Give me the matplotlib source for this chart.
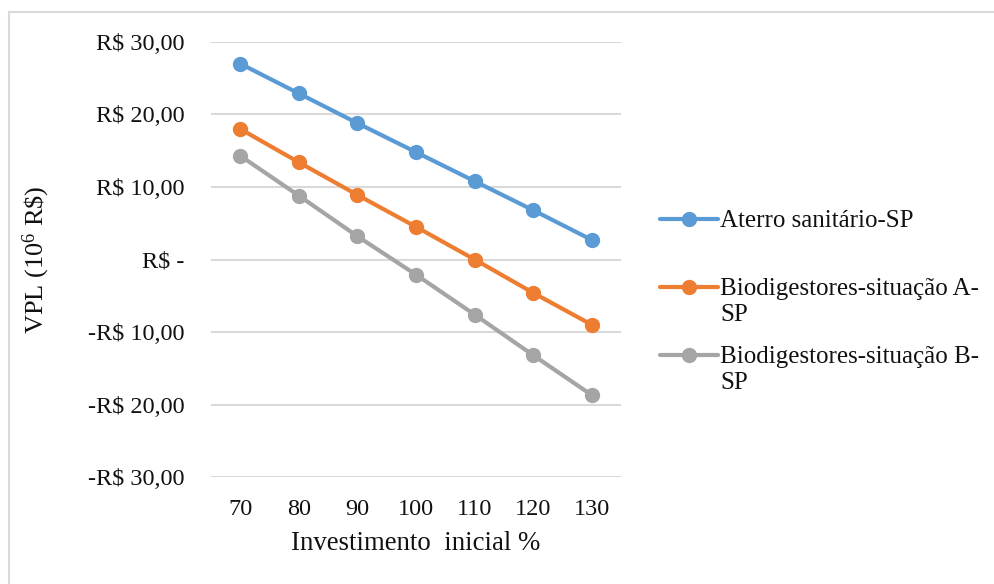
import matplotlib.pyplot as plt
from matplotlib.lines import Line2D
from matplotlib.patches import Rectangle

# dados
investimento = [70, 80, 90, 100, 110, 120, 130]
aterro_sp = [27.0, 22.9, 18.8, 14.8, 10.8, 6.8, 2.7]
bio_a_sp = [18.0, 13.4, 8.9, 4.5, 0.0, -4.6, -9.0]
bio_b_sp = [14.3, 8.8, 3.2, -2.1, -7.6, -13.2, -18.7]

series = [
    ("Aterro sanitário-SP", aterro_sp, "#5B9BD5"),
    ("Biodigestores-situação A-\nSP", bio_a_sp, "#ED7D31"),
    ("Biodigestores-situação B-\nSP", bio_b_sp, "#A5A5A5"),
]

y_ticks = [30, 20, 10, 0, -10, -20, -30]
y_labels = ["R$ 30,00", "R$ 20,00", "R$ 10,00", "R$ -", "-R$ 10,00", "-R$ 20,00", "-R$ 30,00"]

plt.rcParams['font.family'] = ['Liberation Serif', 'DejaVu Serif']
plt.rcParams['mathtext.fontset'] = 'custom'
plt.rcParams['mathtext.rm'] = 'Liberation Serif'
plt.rcParams['mathtext.it'] = 'Liberation Serif'

fig = plt.figure(figsize=(9.94, 5.84), dpi=100)
ax = fig.add_axes([0.2123, 0.1832, 0.4125, 0.7449])

for nome, valores, cor in series:
    ax.plot(investimento, valores, color=cor, linewidth=3, marker='o',
            markersize=10, solid_capstyle='round', zorder=3)

ax.set_xlim(65, 135)
ax.set_ylim(-30, 30)
ax.set_xticks(investimento)
ax.set_yticks(y_ticks)
ax.set_yticklabels(y_labels)
ax.tick_params(axis='both', length=0, labelsize=17.5, colors='#111111')
ax.tick_params(axis='y', pad=19)
ax.tick_params(axis='x', pad=16)
ax.grid(axis='y', color='#D9D9D9', linewidth=1.5)
for s in ax.spines.values():
    s.set_visible(False)

ax.set_xlabel('Investimento  inicial %', fontsize=19.3, color='#111111')
ax.xaxis.set_label_coords(0.5, -0.125)
ax.set_ylabel('VPL (10$^6$ R\\$)', fontsize=19, color='#111111')
ax.yaxis.set_label_coords(-0.388, 0.5)

# legenda manual (estilo Excel, marcador alinhado à primeira linha)
leg_y = [219, 287, 355]
for (nome, valores, cor), py in zip(series, leg_y):
    yf = 1 - py / 584
    fig.add_artist(Line2D([660 / 994, 718 / 994], [yf, yf], transform=fig.transFigure,
                          color=cor, linewidth=3, solid_capstyle='round'))
    fig.add_artist(Line2D([689 / 994], [yf], transform=fig.transFigure,
                          color=cor, marker='o', markersize=10, linestyle='none'))
    fig.text(720 / 994, yf + 0.016, nome, fontsize=18, color='#111111',
             ha='left', va='top', linespacing=1.25)

# borda da área do gráfico
fig.add_artist(Rectangle((9 / 994, 0 - 0.01), 1.0, 1 - 12 / 584 + 0.01,
                         transform=fig.transFigure, fill=False,
                         edgecolor='#D9D9D9', linewidth=1.5))

plt.savefig('out.png', dpi=100)
